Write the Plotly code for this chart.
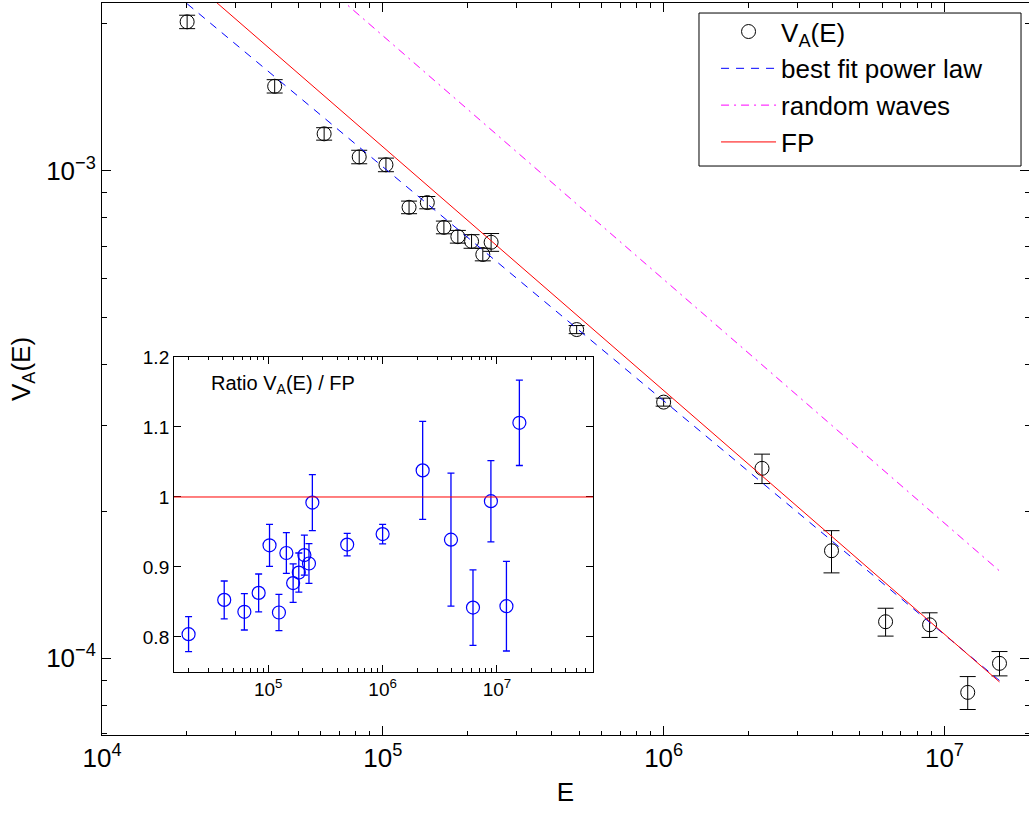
import plotly.graph_objects as go

# Energy values of the measured points
energy = [2.01e4, 4.12e4, 6.18e4, 8.24e4, 1.026e5, 1.24e5, 1.44e5, 1.65e5, 1.85e5,
          2.07e5, 2.27e5, 2.43e5, 4.90e5, 1.0e6, 2.24e6, 3.96e6, 6.17e6, 8.85e6,
          1.21e7, 1.57e7]

# V_A(E) with its error
va = [2.02e-3, 1.49e-3, 1.19e-3, 1.067e-3, 1.028e-3, 8.41e-4, 8.6e-4, 7.65e-4, 7.32e-4,
      7.16e-4, 6.73e-4, 7.13e-4, 4.72e-4, 3.35e-4, 2.45e-4, 1.66e-4, 1.187e-4, 1.17e-4,
      8.5e-5, 9.75e-5]
va_err = [6.4e-5, 4.7e-5, 3.5e-5, 3.4e-5, 3.3e-5, 2.5e-5, 2.5e-5, 2.3e-5, 2.2e-5,
          2.3e-5, 2.0e-5, 3.0e-5, 0.9e-5, 0.63e-5, 1.7e-5, 1.65e-5, 0.78e-5, 0.68e-5,
          0.66e-5, 0.56e-5]

# Ratio V_A(E) / FP with its error
ratio = [0.804, 0.853, 0.836, 0.863, 0.931, 0.835, 0.920, 0.877, 0.892, 0.917,
         0.905, 0.992, 0.932, 0.947, 1.038, 0.939, 0.842, 0.994, 0.844, 1.106]
ratio_err = [0.025, 0.027, 0.026, 0.027, 0.030, 0.026, 0.029, 0.0275, 0.028, 0.0285,
             0.0285, 0.040, 0.016, 0.014, 0.070, 0.095, 0.054, 0.058, 0.064, 0.061]

# Power-law curves, given at their end points
line_energy = [2.01e4, 1.57e7]
fit_va = [2.20e-3, 8.99e-5]
random_va = [4.22e-3, 1.509e-4]
fp_va = [2.497e-3, 8.93e-5]
fp_ratio = 1.0

# Axis settings
main_x_range = [4.0, 7.301]
main_y_range = [-4.158, -2.656]
inset_x_range = [4.176, 7.84]
inset_y_range = [0.75, 1.2]
main_x_ticks = [1e4, 1e5, 1e6, 1e7]
main_x_text = ["10<sup>4</sup>", "10<sup>5</sup>", "10<sup>6</sup>", "10<sup>7</sup>"]
main_y_ticks = [1e-4, 1e-3]
main_y_text = ["10<sup>\u22124</sup>", "10<sup>\u22123</sup>"]
inset_x_ticks = [1e5, 1e6, 1e7]
inset_x_text = ["10<sup>5</sup>", "10<sup>6</sup>", "10<sup>7</sup>"]
inset_y_ticks = [0.8, 0.9, 1.0, 1.1, 1.2]
inset_y_text = ["0.8", "0.9", "1", "1.1", "1.2"]

FONT = "Liberation Sans, Arial, Helvetica, sans-serif"

fig = go.Figure()

fig.add_trace(go.Scatter(
    x=energy, y=va, mode="markers", name="V<sub>A</sub>(E)",
    marker=dict(symbol="circle-open", size=14, color="black", line=dict(width=1, color="black")),
    error_y=dict(type="data", array=va_err, color="black", thickness=1, width=8),
))
fig.add_trace(go.Scatter(
    x=line_energy, y=fit_va, mode="lines", name="best fit power law",
    line=dict(color="#0000ff", width=1, dash="8px,7px"),
))
fig.add_trace(go.Scatter(
    x=line_energy, y=random_va, mode="lines", name="random waves",
    line=dict(color="#ff00ff", width=1, dash="8px,5px,2px,5px"),
))
fig.add_trace(go.Scatter(
    x=line_energy, y=fp_va, mode="lines", name="FP",
    line=dict(color="#ff0000", width=1),
))

# Inset: ratio to FP
fig.add_trace(go.Scatter(
    x=energy, y=ratio, mode="markers", showlegend=False, xaxis="x2", yaxis="y2",
    marker=dict(symbol="circle-open", size=13, color="#0000ff", line=dict(width=1.2, color="#0000ff")),
    error_y=dict(type="data", array=ratio_err, color="#0000ff", thickness=1.3, width=3.5),
))

axis_common = dict(
    showline=True, linecolor="black", linewidth=1, mirror="ticks",
    ticks="inside", tickcolor="black", showgrid=False, zeroline=False,
    automargin=False,
)

fig.update_layout(
    width=1029, height=814, autosize=False,
    margin=dict(l=102, r=0, t=3, b=79, pad=0),
    paper_bgcolor="white", plot_bgcolor="white",
    font=dict(family=FONT, color="black", size=26),
    xaxis=dict(
        type="log", range=main_x_range, tickvals=main_x_ticks, ticktext=main_x_text,
        ticklen=9, tickfont=dict(size=26),
        minor=dict(ticks="inside", ticklen=4.5, dtick="D1", tickcolor="black"),
        title=dict(text="E", font=dict(size=26), standoff=10),
        **axis_common,
    ),
    yaxis=dict(
        type="log", range=main_y_range, tickvals=main_y_ticks, ticktext=main_y_text,
        ticklen=9, tickfont=dict(size=26),
        minor=dict(ticks="inside", ticklen=4.5, dtick="D1", tickcolor="black"),
        title=dict(text="V<sub>A</sub>(E)", font=dict(size=26), standoff=8),
        **axis_common,
    ),
    xaxis2=dict(
        type="log", range=inset_x_range, domain=[0.0777, 0.5297], anchor="y2",
        tickvals=inset_x_ticks, ticktext=inset_x_text, ticklen=7, tickfont=dict(size=19),
        minor=dict(ticks="inside", ticklen=3.5, dtick="D1", tickcolor="black"),
        **axis_common,
    ),
    yaxis2=dict(
        range=inset_y_range, domain=[0.0861, 0.5164], anchor="x2",
        tickvals=inset_y_ticks, ticktext=inset_y_text, ticklen=7, tickfont=dict(size=19),
        **axis_common,
    ),
    legend=dict(
        x=0.6624, y=0.993, xanchor="left", yanchor="top",
        bgcolor="rgba(0,0,0,0)", borderwidth=0, font=dict(size=26),
        itemwidth=55, tracegroupgap=0,
    ),
    showlegend=True,
)

# FP reference level in the inset
fig.add_shape(type="line", xref="x2 domain", yref="y2", x0=0, x1=1, y0=fp_ratio, y1=fp_ratio,
              line=dict(color="#ff0000", width=1))

# Legend frame
fig.add_shape(type="rect", xref="paper", yref="paper", x0=0.644, x1=0.9914, y0=0.7773, y1=0.9863,
              fillcolor="white", line=dict(color="black", width=1), layer="above")

fig.add_annotation(
    text="Ratio V<sub>A</sub>(E) / FP", xref="x2 domain", yref="y2 domain",
    x=0.0835, y=0.914, xanchor="left", yanchor="middle", showarrow=False,
    font=dict(size=20, family=FONT, color="black"),
)

fig.write_html("out.html")
